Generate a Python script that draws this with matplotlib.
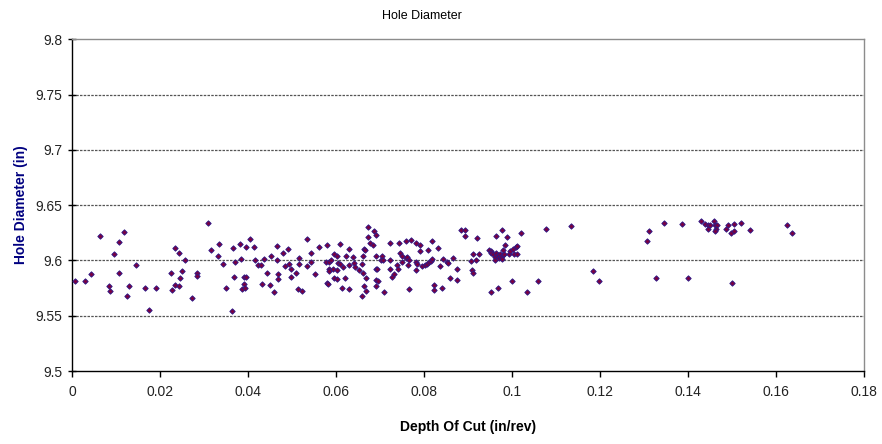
import matplotlib
matplotlib.use("Agg")
import matplotlib.pyplot as plt

plt.rcParams['font.family'] = ['Liberation Sans', 'DejaVu Sans']

# 切込み深さ (in/rev)
depth = [
    0.0008, 0.0030, 0.0043, 0.0064, 0.0083, 0.0086, 0.0106, 0.0096, 0.0106, 0.0119,
    0.0125, 0.0130, 0.0146, 0.0165, 0.0175, 0.0190, 0.0226, 0.0235, 0.0244, 0.0256,
    0.0250, 0.0245, 0.0233, 0.0228, 0.0244, 0.0272, 0.0283, 0.0283, 0.0310, 0.0316,
    0.0331, 0.0335, 0.0343, 0.0363, 0.0349, 0.0366, 0.0367, 0.0370, 0.0382, 0.0385,
    0.0387, 0.0390, 0.0390, 0.0395, 0.0393, 0.0396, 0.0405, 0.0413, 0.0415, 0.0422,
    0.0430, 0.0432, 0.0436, 0.0442, 0.0450, 0.0453, 0.0459, 0.0465, 0.0465, 0.0469,
    0.0469, 0.0480, 0.0483, 0.0490, 0.0492, 0.0497, 0.0497, 0.0510, 0.0514, 0.0516,
    0.0516, 0.0523, 0.0535, 0.0534, 0.0543, 0.0543, 0.0553, 0.0562, 0.0578, 0.0579,
    0.0579, 0.0582, 0.0583, 0.0585, 0.0585, 0.0589, 0.0592, 0.0595, 0.0595, 0.0602,
    0.0603, 0.0603, 0.0605, 0.0609, 0.0610, 0.0613, 0.0616, 0.0620, 0.0622, 0.0630,
    0.0629, 0.0629, 0.0638, 0.0640, 0.0644, 0.0653, 0.0660, 0.0662, 0.0663, 0.0662,
    0.0666, 0.0664, 0.0667, 0.0660, 0.0669, 0.0673, 0.0673, 0.0677, 0.0686, 0.0690,
    0.0685, 0.0690, 0.0704, 0.0702, 0.0706, 0.0690, 0.0694, 0.0690, 0.0695, 0.0690,
    0.0709, 0.0722, 0.0723, 0.0722, 0.0727, 0.0732, 0.0738, 0.0740, 0.0744, 0.0746,
    0.0750, 0.0750, 0.0759, 0.0758, 0.0762, 0.0766, 0.0765, 0.0770, 0.0764, 0.0781,
    0.0781, 0.0781, 0.0784, 0.0790, 0.0791, 0.0795, 0.0802, 0.0806, 0.0809, 0.0811,
    0.0815, 0.0819, 0.0819, 0.0823, 0.0823, 0.0831, 0.0836, 0.0840, 0.0844, 0.0852,
    0.0855, 0.0866, 0.0859, 0.0875, 0.0875, 0.0883, 0.0892, 0.0894, 0.0907, 0.0912,
    0.0919, 0.0924, 0.0909, 0.0911, 0.0920, 0.0951, 0.0967, 0.0963, 0.0977, 0.0989,
    0.0984, 0.1000, 0.1021, 0.1034, 0.1059, 0.0947, 0.0952, 0.0951, 0.0956, 0.0961,
    0.0961, 0.0964, 0.0967, 0.0970, 0.0973, 0.0975, 0.0979, 0.0977, 0.0982, 0.0994,
    0.0995, 0.1003, 0.1008, 0.1012, 0.1005, 0.1011, 0.0980, 0.1077, 0.1133, 0.1184,
    0.1197, 0.1307, 0.1311, 0.1344, 0.1326, 0.1385, 0.1400, 0.1428, 0.1438, 0.1444,
    0.1444, 0.1459, 0.1450, 0.1461, 0.1466, 0.1463, 0.1460, 0.1487, 0.1491, 0.1497,
    0.1505, 0.1505, 0.1520, 0.1541, 0.1500, 0.1624, 0.1636,
]

# 穴径 (in)
diameter = [
    9.5810, 9.5815, 9.5880, 9.6220, 9.5770, 9.5720, 9.6170, 9.6060, 9.5890, 9.6260,
    9.5680, 9.5770, 9.5960, 9.5755, 9.5555, 9.5750, 9.5890, 9.6110, 9.6064, 9.6003,
    9.5900, 9.5845, 9.5780, 9.5733, 9.5770, 9.5660, 9.5890, 9.5860, 9.6336, 9.6097,
    9.6040, 9.6150, 9.5970, 9.5540, 9.5755, 9.6110, 9.5848, 9.5985, 9.6148, 9.6010,
    9.5745, 9.5790, 9.5848, 9.5848, 9.5750, 9.6118, 9.6197, 9.6118, 9.6000, 9.5958,
    9.5958, 9.5790, 9.6015, 9.5890, 9.5780, 9.6043, 9.5715, 9.6133, 9.6006, 9.5880,
    9.5830, 9.6064, 9.5948, 9.6103, 9.5970, 9.5925, 9.5848, 9.5890, 9.5740, 9.6020,
    9.5964, 9.5724, 9.6197, 9.5945, 9.6070, 9.5985, 9.5880, 9.6118, 9.5985, 9.6139,
    9.5794, 9.5785, 9.5918, 9.5985, 9.5900, 9.6006, 9.5925, 9.6055, 9.5845, 9.6036,
    9.5910, 9.5830, 9.5976, 9.5970, 9.6148, 9.5748, 9.5942, 9.5843, 9.6040, 9.5958,
    9.5742, 9.6103, 9.6034, 9.5980, 9.5940, 9.5910, 9.5964, 9.5885, 9.6103, 9.6036,
    9.6094, 9.5770, 9.5724, 9.5676, 9.5843, 9.6306, 9.6212, 9.6157, 9.6267, 9.6227,
    9.6136, 9.6036, 9.6040, 9.6000, 9.6000, 9.5920, 9.5918, 9.5824, 9.5810, 9.5770,
    9.5718, 9.6157, 9.6000, 9.5924, 9.5848, 9.5876, 9.5955, 9.5924, 9.6157, 9.6064,
    9.6040, 9.5985, 9.6173, 9.6024, 9.6030, 9.6000, 9.5740, 9.6188, 9.5955, 9.6157,
    9.5985, 9.5915, 9.5964, 9.6143, 9.6088, 9.5945, 9.5955, 9.5970, 9.6091, 9.5985,
    9.5994, 9.6179, 9.6010, 9.5780, 9.5736, 9.6115, 9.5948, 9.5755, 9.6012, 9.5982,
    9.5979, 9.6021, 9.5840, 9.5924, 9.5825, 9.6273, 9.6273, 9.6218, 9.5994, 9.6057,
    9.6006, 9.6057, 9.5910, 9.5888, 9.6203, 9.5715, 9.5751, 9.6221, 9.6273, 9.6212,
    9.6136, 9.5815, 9.6248, 9.5710, 9.5815, 9.6091, 9.6082, 9.6067, 9.6061, 9.6030,
    9.6006, 9.6067, 9.6045, 9.6024, 9.6061, 9.6030, 9.6052, 9.6010, 9.6061, 9.6055,
    9.6085, 9.6106, 9.6121, 9.6127, 9.6061, 9.6055, 9.6097, 9.6288, 9.6312, 9.5903,
    9.5810, 9.6173, 9.6267, 9.6342, 9.5845, 9.6333, 9.5845, 9.6352, 9.6327, 9.6318,
    9.6288, 9.6357, 9.6318, 9.6318, 9.6318, 9.6288, 9.6264, 9.6288, 9.6318, 9.6248,
    9.6327, 9.6267, 9.6342, 9.6279, 9.5794, 9.6318, 9.6248,
]

x_ticks = [0, 0.02, 0.04, 0.06, 0.08, 0.1, 0.12, 0.14, 0.16, 0.18]
x_tick_labels = ['0', '0.02', '0.04', '0.06', '0.08', '0.1', '0.12', '0.14', '0.16', '0.18']
y_ticks = [9.5, 9.55, 9.6, 9.65, 9.7, 9.75, 9.8]
y_tick_labels = ['9.5', '9.55', '9.6', '9.65', '9.7', '9.75', '9.8']


def main():
    fig = plt.figure(figsize=(8.82, 4.44), dpi=100)
    ax = fig.add_axes([0.0816, 0.1644, 0.8983, 0.7473])

    # 横方向のグリッド線 (破線)
    for yv in y_ticks[1:-1]:
        ax.axhline(yv, color='#555555', linestyle=(0, (2, 1)), linewidth=0.9, zorder=1)

    ax.plot(depth, diameter, linestyle='none', marker='D', markersize=2.8,
            markerfacecolor='#7a0040', markeredgecolor='#2a1a8a', markeredgewidth=0.6,
            zorder=3)

    ax.set_xlim(0, 0.18)
    ax.set_ylim(9.5, 9.8)
    ax.set_xticks(x_ticks)
    ax.set_xticklabels(x_tick_labels)
    ax.set_yticks(y_ticks)
    ax.set_yticklabels(y_tick_labels)

    for side in ('top', 'right'):
        ax.spines[side].set_color('#8c8c8c')
        ax.spines[side].set_linewidth(1.0)
    for side in ('left', 'bottom'):
        ax.spines[side].set_color('black')
        ax.spines[side].set_linewidth(1.0)

    ax.tick_params(axis='y', direction='inout', length=6, width=1, labelsize=10,
                   pad=4, colors='black')
    ax.tick_params(axis='x', direction='out', length=4, width=1, labelsize=10,
                   pad=6, colors='black')
    for lab in ax.get_xticklabels() + ax.get_yticklabels():
        lab.set_color('#222222')

    ax.set_xlabel('Depth Of Cut (in/rev)', fontsize=10, fontweight='bold', labelpad=15)
    ax.set_ylabel('Hole Diameter (in)', fontsize=10, fontweight='bold',
                  color='#000080', labelpad=5)
    fig.text(0.4785, 0.965, 'Hole Diameter', ha='center', va='center', fontsize=9,
             family=['Liberation Sans Narrow', 'Liberation Sans', 'DejaVu Sans'])

    fig.savefig('out.png', dpi=100)
    plt.close(fig)


if __name__ == "__main__":
    main()
